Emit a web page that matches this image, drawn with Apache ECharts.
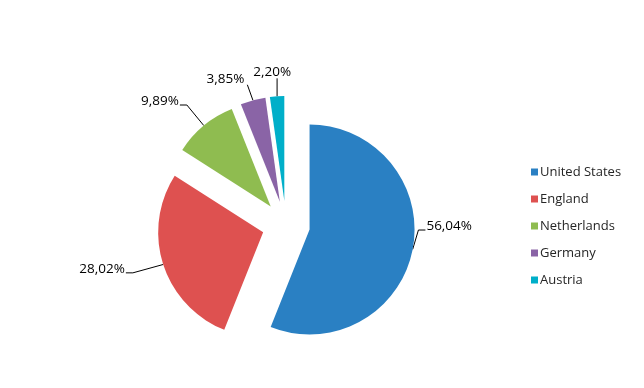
<!DOCTYPE html>
<html>
<head>
<meta charset="utf-8">
<script src="https://cdn.jsdelivr.net/npm/echarts@6/dist/echarts.min.js"></script>
<style>
html,body{margin:0;padding:0;background:#fff;}
#chart{width:644px;height:388px;}
</style>
</head>
<body>
<div id="chart"></div>
<script>
var categories = ['United States', 'England', 'Netherlands', 'Germany', 'Austria'];
var shares = [56.04, 28.02, 9.89, 3.85, 2.20];
var colors = ['#2A80C3', '#DE5150', '#8FBC50', '#8A64A6', '#00AFC9'];
// label nudges (styling only): [dx, dy] and leader-line style
var labelNudge = [[-10, -26], [-15, 0], [-6, -14], [5, -8], [25, -10]];
var leaderMode = ['side', 'side', 'side', 'bottom', 'bottom'];

var chart = echarts.init(document.getElementById('chart'), null, {renderer: 'canvas'});
var fontFamily = '"Open Sans", "Liberation Sans", sans-serif';

var data = categories.map(function (name, i) {
  return {
    name: name,
    value: shares[i],
    selected: true,
    itemStyle: {color: colors[i]}
  };
});

chart.setOption({
  animation: false,
  backgroundColor: '#ffffff',
  legend: {
    orient: 'vertical',
    left: 526,
    top: 160,
    itemWidth: 7,
    itemHeight: 7,
    itemGap: 13,
    icon: 'rect',
    selectedMode: false,
    textStyle: {fontFamily: fontFamily, fontSize: 13, color: '#262626', lineHeight: 14, padding: [0, 0, 0, -3]},
    data: categories
  },
  series: [{
    type: 'pie',
    center: [286, 225],
    radius: 105,
    startAngle: 90,
    clockwise: true,
    selectedMode: 'multiple',
    selectedOffset: 24,
    avoidLabelOverlap: false,
    emphasis: {disabled: true},
    itemStyle: {borderWidth: 0},
    label: {
      show: true,
      position: 'outside',
      fontFamily: fontFamily,
      fontSize: 13.5,
      color: '#000000',
      distanceToLabelLine: 2,
      formatter: function (p) { return p.value.toFixed(2).replace('.', ',') + '%'; }
    },
    labelLine: {
      show: true,
      length: 14,
      length2: 8,
      lineStyle: {color: '#000000', width: 1}
    },
    labelLayout: function (params) {
      var i = params.dataIndex;
      var n = labelNudge[i];
      var r = params.labelRect;
      var left = r.x + n[0], right = r.x + r.width + n[0];
      var cy = r.y + r.height / 2 + n[1];
      var pts = params.labelLinePoints;
      var start = pts ? pts[0] : null;
      var out = {dx: n[0], dy: n[1], hideOverlap: false};
      if (start) {
        if (leaderMode[i] === 'side') {
          var onRight = start[0] < left;
          var ex = onRight ? left - 1 : right + 1;
          var ey = Math.round(cy + 4) + 0.5;
          var bx = onRight ? ex - 7 : ex + 7;
          out.labelLinePoints = [start, [bx, ey], [ex, ey]];
        } else {
          var x = Math.min(Math.max(start[0], left), right + 3);
          out.labelLinePoints = [start, [x, cy + 6]];
        }
      }
      return out;
    },
    data: data
  }]
});
</script>
</body>
</html>
